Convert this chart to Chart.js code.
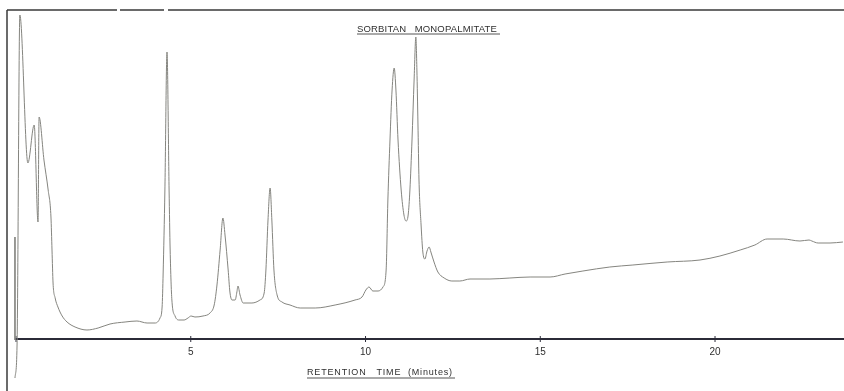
<!DOCTYPE html>
<html>
<head>
<meta charset="utf-8">
<title>Sorbitan Monopalmitate</title>
<script src="https://cdn.jsdelivr.net/npm/chart.js@4.4.1/dist/chart.umd.min.js"></script>
<style>
  html, body { margin: 0; padding: 0; background: #ffffff; }
  canvas { display: block; }
</style>
</head>
<body>
<canvas id="trace" width="844" height="391"></canvas>
<script>
// Recorder trace: retention time (minutes) and detector response (arbitrary units)
const retentionMin = [
  -0.03, 0.03, 0.11, 0.34, 0.52, 0.63, 0.66, 0.80, 0.92, 1.00,
  1.03, 1.06, 1.12, 1.20, 1.32, 1.46, 1.69, 2.03, 2.35, 2.69,
  3.12, 3.46, 3.75, 3.98, 4.12, 4.18, 4.21, 4.26, 4.32, 4.38,
  4.41, 4.46, 4.55, 4.66, 4.81, 4.92, 5.01, 5.12, 5.35, 5.55,
  5.67, 5.75, 5.84, 5.92, 5.98, 6.07, 6.12, 6.18, 6.27, 6.32,
  6.35, 6.41, 6.50, 6.75, 6.98, 7.10, 7.15, 7.21, 7.27, 7.32,
  7.38, 7.47, 7.61, 7.84, 8.13, 8.56, 9.13, 9.70, 9.90, 10.01,
  10.10, 10.21, 10.36, 10.50, 10.59, 10.64, 10.70, 10.76, 10.82, 10.87,
  10.93, 11.02, 11.10, 11.16, 11.22, 11.27, 11.33, 11.39, 11.44, 11.47,
  11.50, 11.53, 11.59, 11.64, 11.70, 11.76, 11.82, 11.87, 11.96, 12.07,
  12.25, 12.47, 12.70, 12.99, 13.56, 14.13, 14.71, 15.28, 15.71, 16.22,
  16.99, 17.65, 18.63, 19.57, 20.14, 20.72, 21.14, 21.49, 21.95, 22.43,
  22.69, 22.77, 22.95, 23.29, 23.66
];
const response = [
  -39, -6, 324, 176, 214, 117, 222, 179, 149, 122,
  89, 56, 41, 32, 23, 17, 12, 9, 11, 15,
  17, 18, 16, 16, 21, 32, 66, 149, 287, 149,
  89, 39, 23, 19, 19, 21, 23, 22, 23, 26,
  34, 54, 89, 121, 104, 69, 47, 39, 39, 47,
  53, 44, 36, 36, 39, 46, 69, 119, 151, 119,
  69, 44, 37, 34, 31, 31, 34, 39, 42, 49,
  52, 48, 48, 52, 69, 139, 199, 249, 271, 249,
  199, 149, 124, 118, 124, 149, 199, 259, 302, 269,
  216, 159, 114, 87, 80, 88, 92, 87, 77, 67,
  61, 58, 58, 60, 60, 61, 62, 62, 65, 68,
  72, 74, 77, 79, 83, 89, 94, 100, 100, 98,
  99, 98, 96, 96, 97
];

// Injection mark at the start of the run
const injectionMin = [-0.03, -0.03];
const injectionMark = [102, -1];

// Time axis
const tickMinutes = [0, 5, 10, 15, 20];
const tickLabels = ['', '5', '10', '15', '20'];

const chartTitle = 'SORBITAN   MONOPALMITATE';
const axisTitle = 'RETENTION   TIME  (Minutes)';

const INK = '#2f2f2f';

// Draws spaced, underlined lettering stretched between two x positions
function letterLine(ctx, text, x0, x1, baseline, size, underlineY) {
  ctx.font = size + 'px "Liberation Sans", "DejaVu Sans", sans-serif';
  ctx.letterSpacing = '0px';
  const plain = ctx.measureText(text).width;
  const spacing = Math.max(0, (x1 - x0 - plain) / (text.length - 1));
  ctx.letterSpacing = spacing.toFixed(2) + 'px';
  ctx.textAlign = 'left';
  ctx.textBaseline = 'alphabetic';
  ctx.fillText(text, x0, baseline);
  ctx.letterSpacing = '0px';
  ctx.beginPath();
  ctx.moveTo(x0, underlineY);
  ctx.lineTo(x1 + 3, underlineY);
  ctx.stroke();
}

const recorderPaper = {
  id: 'recorderPaper',
  beforeDraw(chart) {
    const { ctx, width, height } = chart;
    ctx.save();
    ctx.fillStyle = '#ffffff';
    ctx.fillRect(0, 0, width, height);
    ctx.restore();
  },
  beforeDatasetsDraw(chart) {
    const { ctx, chartArea, scales: { x, y } } = chart;
    ctx.save();

    // chart frame: left edge and top edge (with small breaks in the ruling)
    ctx.strokeStyle = '#3a3a3a';
    ctx.lineWidth = 1.5;
    ctx.beginPath();
    ctx.moveTo(7, 10);
    ctx.lineTo(7, chartArea.bottom);
    ctx.stroke();
    ctx.beginPath();
    ctx.moveTo(7, 10); ctx.lineTo(117, 10);
    ctx.moveTo(120, 10); ctx.lineTo(164, 10);
    ctx.moveTo(168, 10); ctx.lineTo(chartArea.right, 10);
    ctx.stroke();

    // time axis at zero response
    const y0 = y.getPixelForValue(0);
    ctx.strokeStyle = '#2b2b38';
    ctx.lineWidth = 2;
    ctx.beginPath();
    ctx.moveTo(x.getPixelForValue(0) - 1, y0);
    ctx.lineTo(chartArea.right, y0);
    ctx.stroke();

    // tick marks and labels
    ctx.lineWidth = 1;
    ctx.fillStyle = INK;
    ctx.font = '10px "Liberation Sans", "DejaVu Sans", sans-serif';
    ctx.textAlign = 'center';
    ctx.textBaseline = 'middle';
    tickMinutes.forEach((t, i) => {
      const px = x.getPixelForValue(t);
      ctx.beginPath();
      ctx.moveTo(px, y0 - 3);
      ctx.lineTo(px, y0 + 3);
      ctx.stroke();
      if (tickLabels[i]) ctx.fillText(tickLabels[i], px, y0 + 13);
    });

    // titles
    ctx.strokeStyle = '#555555';
    ctx.lineWidth = 1;
    ctx.fillStyle = INK;
    letterLine(ctx, chartTitle, 357, 497, 32, 9.5, 34);
    letterLine(ctx, axisTitle, 307, 452, 374.5, 9, 378);

    ctx.restore();
  }
};

new Chart(document.getElementById('trace'), {
  type: 'line',
  data: {
    datasets: [
      {
        label: 'Detector response',
        data: retentionMin.map((t, i) => ({ x: t, y: response[i] })),
        borderColor: '#85857f',
        borderWidth: 1,
        pointRadius: 0,
        cubicInterpolationMode: 'monotone',
        fill: false
      },
      {
        label: 'Injection',
        data: injectionMin.map((t, i) => ({ x: t, y: injectionMark[i] })),
        borderColor: '#8a8a86',
        borderWidth: 1,
        pointRadius: 0,
        fill: false
      }
    ]
  },
  options: {
    responsive: false,
    animation: false,
    devicePixelRatio: 1,
    layout: { padding: 0 },
    plugins: {
      legend: { display: false },
      tooltip: { enabled: false },
      title: { display: false }
    },
    scales: {
      x: { type: 'linear', min: -0.458, max: 23.69, display: false },
      y: { type: 'linear', min: -52, max: 339, display: false }
    }
  },
  plugins: [recorderPaper]
});
</script>
</body>
</html>
